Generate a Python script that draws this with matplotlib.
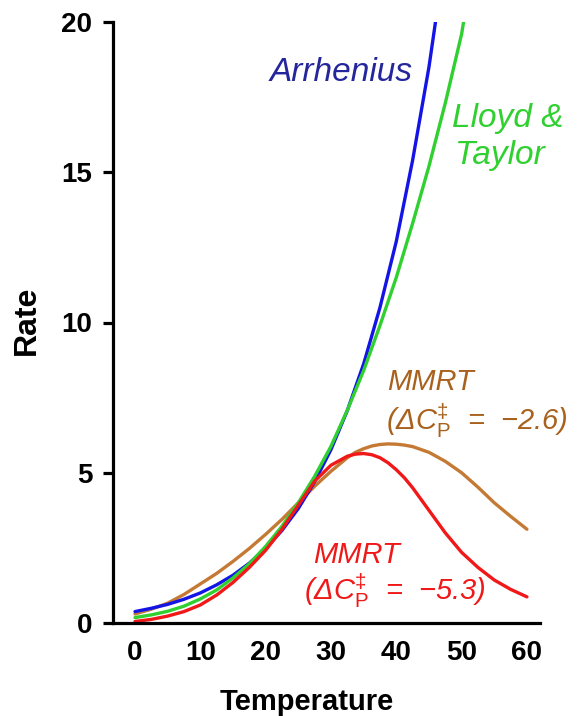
import numpy as np
import matplotlib
matplotlib.use("Agg")
import matplotlib.pyplot as plt

plt.rcParams['font.family'] = ['Liberation Sans', 'DejaVu Sans']
plt.rcParams['mathtext.fontset'] = 'custom'
plt.rcParams['mathtext.rm'] = 'Liberation Sans'
plt.rcParams['mathtext.it'] = 'Liberation Sans:italic'
plt.rcParams['mathtext.bf'] = 'Liberation Sans:bold'

# values
temp_arr = [0, 2.5, 5, 7.5, 10, 12.5, 15, 17.5, 20, 22.5, 25, 27.5, 30,
            32.5, 35, 37.5, 40, 42.5, 45, 46]
rate_arr = [0.38, 0.49, 0.62, 0.79, 1.0, 1.27, 1.59, 1.99, 2.48, 3.08, 3.81,
            4.7, 5.77, 7.07, 8.62, 10.5, 12.7, 15.4, 18.5, 20.0]

temp_lt = [0, 2.5, 5, 7.5, 10, 12.5, 15, 17.5, 20, 22.5, 25, 27.5, 30,
           32.5, 35, 37.5, 40, 42.5, 45, 47.5, 50, 50.3]
rate_lt = [0.18, 0.27, 0.39, 0.56, 0.8, 1.1, 1.5, 1.97, 2.55, 3.22, 4.0,
           4.88, 5.88, 7.08, 8.4, 9.9, 11.5, 13.3, 15.2, 17.3, 19.6, 20.0]

temp_mm = [0, 2.5, 5, 7.5, 10, 12.5, 15, 17.5, 20, 22.5, 25, 27.5, 30,
           32.5, 33.75, 35, 36.25, 37.5, 38.75, 40, 41.25, 42.5, 45, 47.5,
           50, 52.5, 55, 57.5, 60]
rate_mm26 = [0.3, 0.46, 0.66, 0.95, 1.3, 1.65, 2.05, 2.48, 2.95, 3.45, 4.0,
             4.55, 5.05, 5.5, 5.68, 5.8, 5.89, 5.94, 5.96, 5.95, 5.92, 5.87,
             5.68, 5.38, 5.0, 4.52, 4.0, 3.55, 3.12]
rate_mm53 = [0.05, 0.12, 0.23, 0.38, 0.6, 0.93, 1.35, 1.85, 2.42, 3.12,
             3.92, 4.72, 5.25, 5.55, 5.62, 5.64, 5.6, 5.5, 5.33, 5.1, 4.83,
             4.5, 3.75, 3.0, 2.35, 1.85, 1.43, 1.12, 0.87]

c_blue = '#1414e6'
c_green = '#2fd02f'
c_brown = '#c47a34'
c_red = '#f01818'

fig = plt.figure(figsize=(5.77, 7.16), dpi=100)
ax = fig.add_axes([113 / 577, 93 / 716, 427 / 577, 601 / 716])

lw = 2.4
ax.plot(temp_mm, rate_mm26, color=c_brown, lw=lw, solid_capstyle='round')
ax.plot(temp_arr, rate_arr, color=c_blue, lw=lw, solid_capstyle='round')
ax.plot(temp_lt, rate_lt, color=c_green, lw=lw, solid_capstyle='round')
ax.plot(temp_mm, rate_mm53, color=c_red, lw=lw, solid_capstyle='round')

ax.set_xlim(-3.37, 62)
ax.set_ylim(0, 20)
ax.set_xticks([0, 10, 20, 30, 40, 50, 60])
ax.set_yticks([0, 5, 10, 15, 20])
for s in ['top', 'right']:
    ax.spines[s].set_visible(False)
for s in ['left', 'bottom']:
    ax.spines[s].set_linewidth(2.3)
ax.tick_params(axis='y', length=7, width=2.3, pad=8, labelsize=20)
ax.tick_params(axis='x', length=0, pad=12, labelsize=20)
for lab in ax.get_xticklabels() + ax.get_yticklabels():
    lab.set_fontweight('bold')

fig.text(307 / 577, 1 - 702 / 716, 'Temperature', ha='center', va='center',
         fontsize=21, fontweight='bold')
fig.text(27 / 577, 1 - 320 / 716, 'Rate', ha='center', va='center',
         rotation=90, fontsize=23, fontweight='bold')

ax.text(31.5, 18.03, 'Arrhenius', color='#25259c', fontsize=24,
        style='italic', ha='center', va='baseline')
ax.text(48.6, 16.5, 'Lloyd &', color=c_green, fontsize=24,
        style='italic', ha='left', va='baseline')
ax.text(49.0, 15.27, 'Taylor', color=c_green, fontsize=24,
        style='italic', ha='left', va='baseline')

ax.text(38.6, 7.77, 'MMRT', color='#a8621e', fontsize=21,
        style='italic', ha='left', va='baseline')
ax.text(38.4, 6.43, '(ΔC$_\\mathrm{P}^\\ddag$  =  −2.6)', color='#a8621e',
        fontsize=21, style='italic', ha='left', va='baseline')
ax.text(27.3, 2.0, 'MMRT', color=c_red, fontsize=21,
        style='italic', ha='left', va='baseline')
ax.text(25.8, 0.77, '(ΔC$_\\mathrm{P}^\\ddag$  =  −5.3)', color=c_red,
        fontsize=21, style='italic', ha='left', va='baseline')

fig.savefig('out.png', dpi=100)
